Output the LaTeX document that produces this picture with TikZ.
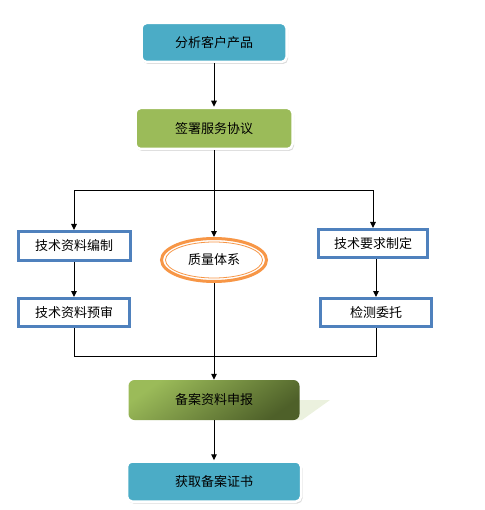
\documentclass[tikz,border=0pt]{standalone}
\usepackage{fontspec}
\newfontfamily\cjk{Noto Sans CJK SC}
\usepackage{tikz}
\usetikzlibrary{arrows.meta,shapes.geometric,shadows}
\definecolor{aquafill}{HTML}{4BACC6}
\definecolor{greenfill}{HTML}{9BBB59}
\definecolor{darkgreen}{HTML}{4E6029}
\definecolor{paleleaf}{HTML}{EBF1DE}
\definecolor{blueline}{HTML}{4F81BD}
\definecolor{orangeline}{HTML}{F79646}
\begin{document}
\begin{tikzpicture}[x=1pt, y=-1pt, font=\cjk\fontsize{13}{15}\selectfont,
  arr/.style={-{Triangle[length=6pt,width=5.5pt]}, line width=1pt},
  link/.style={line width=1pt},
  softbox/.style={draw=white, line width=2.5pt, rounded corners=5pt, inner sep=0pt,
    drop shadow={shadow xshift=1.5pt, shadow yshift=-2pt, fill=black!28}},
  aquabox/.style={softbox, fill=aquafill},
  greenbox/.style={softbox, fill=greenfill},
  framebox/.style={draw=blueline, line width=3pt, fill=white, inner sep=0pt,
    minimum width=110pt, minimum height=28pt},
  fadebox/.style={rounded corners=6pt, inner sep=0pt, top color=greenfill,
    bottom color=darkgreen, shading angle=35}]
\useasboundingbox (0,0) rectangle (484,510);
\fill[paleleaf] (290,400) -- (330,400) -- (302,420) -- (290,420) -- cycle;
\node[aquabox, minimum width=145pt, minimum height=39pt] (analyse) at (214,42.5) {分析客户产品};
\node[greenbox, minimum width=157pt, minimum height=41pt] (sign) at (214,128.5) {签署服务协议};
\node[framebox, minimum width=112pt, minimum height=29pt] (compile) at (74,246) {技术资料编制};
\node[framebox, minimum width=111pt] (review) at (74,312.5) {技术资料预审};
\node[framebox, minimum width=109pt] (require) at (373,243.5) {技术要求制定};
\node[framebox, minimum width=111pt] (entrust) at (376,312.5) {检测委托};
\node[ellipse, draw=orangeline, line width=3pt, fill=white, inner sep=0pt,
  minimum width=105pt, minimum height=43pt] (quality) at (214,260) {质量体系};
\draw[orangeline, line width=0.8pt] (quality.center) ellipse (48.5pt and 18pt);
\node[fadebox, minimum width=171pt, minimum height=40pt] (filing) at (214,400) {备案资料申报};
\node[aquabox, minimum width=174pt, minimum height=40pt] (certificate) at (214,481.5) {获取备案证书};
\coordinate (split) at (214,191);
\draw[arr] (analyse) -- (sign);
\draw[link] (sign) -- (split);
\draw[arr] (split) -- (quality);
\draw[arr] (split) -| (compile);
\draw[arr] (split) -| (require.north);
\draw[arr] (compile) -- (review);
\draw[arr] (entrust.north |- require.south) -- (entrust);
\draw[arr] (quality) -- (filing);
\draw[link] (review.south) -- ++(0,28) -| (entrust.south);
\draw[arr] (filing) -- (certificate);
\end{tikzpicture}
\end{document}
